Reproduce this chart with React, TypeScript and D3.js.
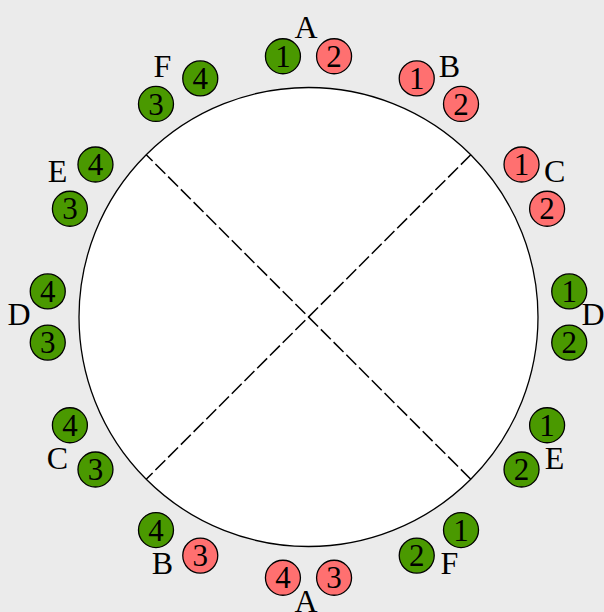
import React from "react";
import * as d3 from "d3";

// sectors clockwise from the top
const labels = ["A", "B", "C", "D", "E", "F", "A", "B", "C", "D", "E", "F"];
const seatNumbers = [
  [1, 2], [1, 2], [1, 2], [1, 2], [1, 2], [1, 2],
  [3, 4], [3, 4], [3, 4], [3, 4], [3, 4], [3, 4],
];
const seatStatus = [
  ["ok", "alert"], ["alert", "alert"], ["alert", "alert"], ["ok", "ok"],
  ["ok", "ok"], ["ok", "ok"], ["alert", "alert"], ["alert", "ok"],
  ["ok", "ok"], ["ok", "ok"], ["ok", "ok"], ["ok", "ok"],
];
const statusKinds = ["ok", "alert"];

const W = 604;
const H = 612;
const cx = 308.5;
const cy = 317;
const tableR = 229.5;
const seatR = 262;
const labelR = 287;
const dotR = 17.5;
const seatSpread = (5.6 * Math.PI) / 180;

const App = () => {
  const angle = d3.scaleLinear().domain([0, labels.length]).range([0, 2 * Math.PI]);
  const color = d3.scaleOrdinal<string, string>().domain(statusKinds).range(["#4a9900", "#ff7070"]);

  const seats = labels.flatMap((lab, i) =>
    seatNumbers[i].map((n, j) => {
      const a = angle(i) + (j === 0 ? -seatSpread : seatSpread);
      const [x, y] = d3.pointRadial(a, seatR);
      return { key: `${i}-${j}`, n, status: seatStatus[i][j], x: cx + x, y: cy + y };
    })
  );

  const diagonals = [45, 135].map((deg) => {
    const a = (deg * Math.PI) / 180;
    const p1 = d3.pointRadial(a, tableR);
    const p2 = d3.pointRadial(a + Math.PI, tableR);
    return { deg, p1, p2 };
  });

  return (
    <svg width={W} height={H} style={{ position: "absolute", left: 0, top: 0 }}
      fontFamily="'Liberation Serif', 'Times New Roman', serif">
      <rect width={W} height={H} fill="#ebebeb" />
      <circle cx={cx} cy={cy} r={tableR} fill="#fff" stroke="#000" strokeWidth={1.3} />
      {diagonals.map((d) => (
        <line key={d.deg} x1={cx + d.p1[0]} y1={cy + d.p1[1]} x2={cx + d.p2[0]} y2={cy + d.p2[1]}
          stroke="#000" strokeWidth={1.5} strokeDasharray="14,4" />
      ))}
      {labels.map((lab, i) => {
        const [x, y] = d3.pointRadial(angle(i), labelR);
        return (
          <text key={i} x={cx - 2.5 + x} y={cy - 3 + y} dy="0.35em" textAnchor="middle" fontSize={32} fill="#000">
            {lab}
          </text>
        );
      })}
      {seats.map((s) => (
        <g key={s.key} transform={`translate(${s.x},${s.y})`}>
          <circle r={dotR} fill={color(s.status)} stroke="#000" strokeWidth={1.3} />
          <text dy="0.34em" textAnchor="middle" fontSize={31} fill="#000">{s.n}</text>
        </g>
      ))}
    </svg>
  );
};

export default App;
